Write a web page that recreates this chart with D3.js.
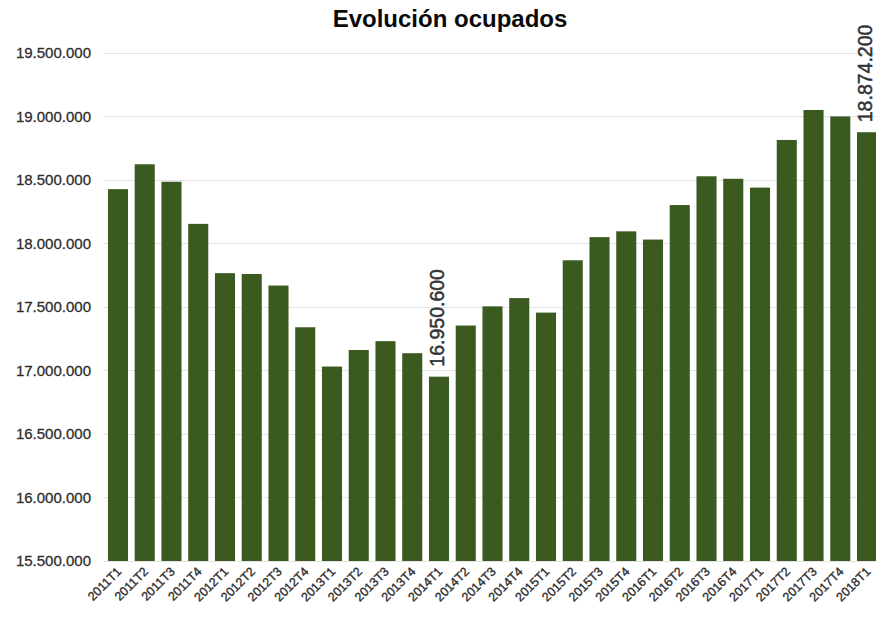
<!DOCTYPE html>
<html>
<head>
<meta charset="utf-8">
<script src="https://cdn.jsdelivr.net/npm/d3@7/dist/d3.min.js"></script>
<style>
  html, body { margin: 0; padding: 0; background: #fff; }
  svg { display: block; font-family: "Liberation Sans", Arial, Helvetica, sans-serif; }
</style>
</head>
<body>
<svg id="chart" width="876" height="620"></svg>
<script>
// Quarterly employment (EPA), number of employed people
const quarters = [
  "2011T1","2011T2","2011T3","2011T4",
  "2012T1","2012T2","2012T3","2012T4",
  "2013T1","2013T2","2013T3","2013T4",
  "2014T1","2014T2","2014T3","2014T4",
  "2015T1","2015T2","2015T3","2015T4",
  "2016T1","2016T2","2016T3","2016T4",
  "2017T1","2017T2","2017T3","2017T4",
  "2018T1"
];
const ocupados = [
  18426200, 18622000, 18484500, 18153000,
  17765100, 17758500, 17667700, 17339400,
  17030200, 17160600, 17230000, 17135200,
  16950600, 17353000, 17504000, 17569100,
  17454800, 17866500, 18048700, 18094200,
  18029600, 18301000, 18527500, 18508100,
  18438300, 18813300, 19049200, 18998400,
  18874200
];
const yTicks = [15500000, 16000000, 16500000, 17000000, 17500000, 18000000, 18500000, 19000000, 19500000];
// Quarters whose value is written above the bar
const labelled = ["2014T1", "2018T1"];

const svg = d3.select("#chart");
const fmt = d3.formatLocale({ decimal: ",", thousands: ".", grouping: [3], currency: ["", "€"] }).format(",d");

const x = d3.scaleBand()
  .domain(quarters)
  .range([104.6, 880.4])
  .paddingInner(0.25)
  .paddingOuter(0.125);

const y = d3.scaleLinear()
  .domain([15500000, 19500000])
  .range([561, 52.7]);

// Title
svg.append("text")
  .attr("x", 450)
  .attr("y", 27)
  .attr("text-anchor", "middle")
  .attr("font-size", 24)
  .attr("font-weight", "bold")
  .attr("fill", "#0a0a0a")
  .text("Evolución ocupados");

// Horizontal gridlines
svg.append("g")
  .selectAll("line")
  .data(yTicks)
  .join("line")
  .attr("x1", 103)
  .attr("x2", 876)
  .attr("y1", d => Math.round(y(d)) + 0.5)
  .attr("y2", d => Math.round(y(d)) + 0.5)
  .attr("stroke", "#e3e3e3")
  .attr("stroke-width", 1);

// Y axis labels
const yAxis = d3.axisLeft(y).tickValues(yTicks).tickFormat(fmt).tickSize(0).tickPadding(0);
const gy = svg.append("g")
  .attr("transform", "translate(91,0)")
  .call(yAxis);
gy.select(".domain").remove();
gy.selectAll("text")
  .attr("font-size", 15)
  .attr("font-family", "Liberation Sans, Arial, sans-serif")
  .attr("fill", "#2e2e2e")
  .attr("stroke", "#2e2e2e")
  .attr("stroke-width", 0.3);

// Bars
svg.append("g")
  .selectAll("rect")
  .data(quarters)
  .join("rect")
  .attr("x", d => x(d))
  .attr("width", x.bandwidth())
  .attr("y", (d, i) => y(ocupados[i]))
  .attr("height", (d, i) => y(15500000) - y(ocupados[i]))
  .attr("fill", "#3a5a20");

// X axis labels, rotated
const xAxis = d3.axisBottom(x).tickSize(0).tickPadding(0);
const gx = svg.append("g")
  .attr("transform", "translate(0,566)")
  .call(xAxis);
gx.select(".domain").remove();
gx.selectAll("text")
  .attr("font-size", 12.5)
  .attr("font-family", "Liberation Sans, Arial, sans-serif")
  .attr("fill", "#2e2e2e")
  .attr("stroke", "#2e2e2e")
  .attr("stroke-width", 0.35)
  .attr("text-anchor", "end")
  .attr("dy", "0.71em")
  .attr("transform", "translate(-2,0) rotate(-45)");

// Value labels for selected quarters
svg.append("g")
  .selectAll("text")
  .data(labelled)
  .join("text")
  .attr("transform", d => {
    const i = quarters.indexOf(d);
    const cx = x(d) + x.bandwidth() / 2;
    return `translate(${cx + 5},${y(ocupados[i]) - 10}) rotate(-90)`;
  })
  .attr("text-anchor", "start")
  .attr("font-size", 19.5)
  .attr("fill", "#333")
  .attr("stroke", "#333")
  .attr("stroke-width", 0.5)
  .text(d => fmt(ocupados[quarters.indexOf(d)]));
</script>
</body>
</html>
